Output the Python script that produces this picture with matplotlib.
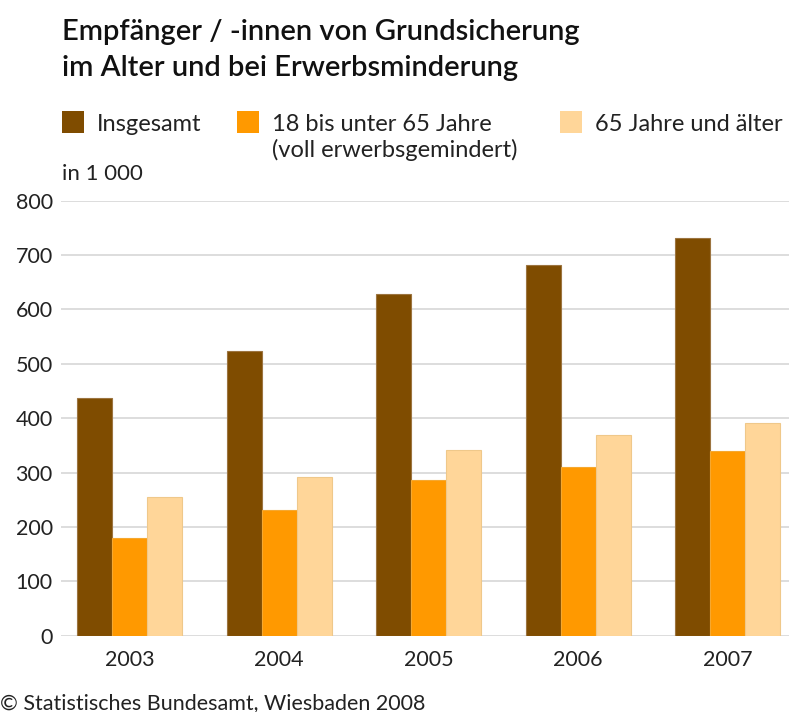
import matplotlib.pyplot as plt
import numpy as np

plt.rcParams["font.family"] = ["Lato", "DejaVu Sans"]

years = ["2003", "2004", "2005", "2006", "2007"]
insgesamt = [437, 524, 629, 681, 731]
erwerbsgemindert = [180, 232, 286, 311, 339]
ab_65 = [256, 292, 342, 370, 391]

labels = ["Insgesamt", "18 bis unter 65 Jahre\n(voll erwerbsgemindert)", "65 Jahre und älter"]
colors = ["#7F4C00", "#FF9900", "#FFD699"]
edges = ["#9C7440", "#F5A830", "#EFC88A"]

W, H = 789, 712
fig = plt.figure(figsize=(W / 100, H / 100), dpi=100)
ax = fig.add_axes([61 / W, 1 - 635.7 / H, 1 - 61 / W, 435 / H])

x = np.arange(len(years))
bw = 0.2333
for i, (vals, c, ec) in enumerate(zip([insgesamt, erwerbsgemindert, ab_65], colors, edges)):
    ax.bar(x + (i - 1) * bw, vals, bw, color=c, edgecolor=ec, linewidth=0.8, zorder=3)

ax.set_ylim(0, 800)
ax.set_xlim(-0.4595, 4.41)
ax.set_yticks(range(0, 801, 100))
ax.yaxis.grid(True, color="#DDDDDD", linewidth=1.4, zorder=0)
ax.set_axisbelow(True)
for s in ax.spines.values():
    s.set_visible(False)
ax.tick_params(axis="both", length=0, labelsize=15.5, colors="#222222")
ax.tick_params(axis="y", pad=6)
ax.set_xticks(x)
ax.set_xticklabels(years)
ax.tick_params(axis="x", pad=10)


def px(xp, yp):
    return xp / W, 1 - yp / H


# title
fig.text(*px(62, 40), "Empfänger / -innen von Grundsicherung", fontsize=21, fontweight="semibold",
         va="baseline", color="#111111")
fig.text(*px(62, 76), "im Alter und bei Erwerbsminderung", fontsize=21, fontweight="semibold",
         va="baseline", color="#111111")

# legend
sq_x = [62, 237, 560]
for sx, lab, c in zip(sq_x, labels, colors):
    fig.patches.append(plt.Rectangle(px(sx, 133), 22 / W, 22 / H, transform=fig.transFigure,
                                     facecolor=c, edgecolor="none"))
    lines = lab.split("\n")
    for k, line in enumerate(lines):
        fig.text(*px(sx + 35, 131 + k * 26), line, fontsize=17, va="baseline", color="#222222")

fig.text(*px(62, 180), "in 1 000", fontsize=16, va="baseline", color="#222222")
fig.text(*px(0, 709), "© Statistisches Bundesamt, Wiesbaden 2008", fontsize=15.5, va="baseline",
         color="#222222")

fig.savefig("out.png", dpi=100)
